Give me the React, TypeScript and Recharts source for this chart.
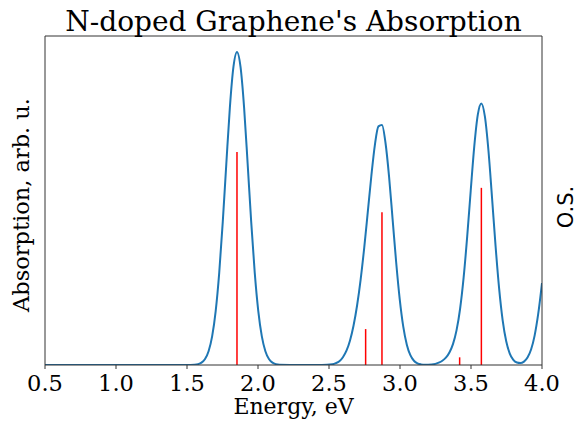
import React from 'react';
import { ComposedChart, Line, XAxis, YAxis, ReferenceLine } from 'recharts';

// Absorption envelope (arb. u.)
const energy = [
  0.5, 1.0, 1.5, 1.552, 1.577, 1.602, 1.627, 1.652, 1.677, 1.702, 1.727, 1.752, 1.777, 1.802, 1.827, 1.852,
  1.877, 1.902, 1.927, 1.952, 1.977, 2.002, 2.027, 2.052, 2.077, 2.102, 2.127, 2.152, 2.3, 2.45,
  2.523, 2.548, 2.573, 2.598, 2.623, 2.648, 2.673, 2.698, 2.723, 2.748, 2.773, 2.798, 2.823, 2.848, 2.873,
  2.898, 2.923, 2.948, 2.973, 2.998, 3.023, 3.048, 3.073, 3.098, 3.123, 3.148, 3.173, 3.223,
  3.273, 3.298, 3.323, 3.348, 3.373, 3.398, 3.423, 3.448, 3.473, 3.498, 3.523, 3.548, 3.573,
  3.598, 3.623, 3.648, 3.673, 3.698, 3.723, 3.748, 3.773, 3.798, 3.823, 3.848, 3.873, 3.898,
  3.923, 3.948, 3.973, 4.0,
];
const absorption = [
  0, 0, 0, 0.003, 0.008, 0.022, 0.056, 0.129, 0.269, 0.506, 0.867, 1.347, 1.893, 2.42, 2.799, 2.94,
  2.799, 2.42, 1.893, 1.347, 0.867, 0.506, 0.269, 0.129, 0.056, 0.022, 0.008, 0.003, 0, 0,
  0.007, 0.017, 0.035, 0.073, 0.134, 0.231, 0.371, 0.561, 0.805, 1.101, 1.435, 1.773, 2.066, 2.241, 2.254,
  2.085, 1.77, 1.368, 0.965, 0.619, 0.36, 0.191, 0.092, 0.04, 0.016, 0.006, 0.002, 0.005,
  0.022, 0.04, 0.069, 0.118, 0.196, 0.325, 0.526, 0.82, 1.203, 1.637, 2.054, 2.352, 2.457,
  2.332, 2.012, 1.573, 1.118, 0.72, 0.42, 0.223, 0.107, 0.048, 0.023, 0.018, 0.032, 0.07,
  0.145, 0.276, 0.477, 0.77,
];

// oscillator strengths (sticks)
const stickEnergy = [1.852, 2.758, 2.873, 3.42, 3.573];
const stickOS = [2.61, 0.44, 1.87, 0.094, 2.17];

const xTicks = [0.5, 1.0, 1.5, 2.0, 2.5, 3.0, 3.5, 4.0];
const absTicks = [0, 1, 2, 3];
const osTicks = [0, 1, 2, 3];

const data = energy.map((e, i) => ({ e, a: absorption[i] }));

const serif = '"DejaVu Serif", serif';
const axisColor = '#333';
const axisLine = { stroke: axisColor, strokeWidth: 1 };
const tickLine = { stroke: axisColor, strokeWidth: 1 };

const App: React.FC = () => {
  return (
    <div style={{ position: 'absolute', left: 0, top: 0, width: 577, height: 423, background: '#fff' }}>
      <ComposedChart width={577} height={423} data={data} margin={{ top: 35, right: 34, left: 44, bottom: 0 }}>
        <XAxis
          dataKey="e"
          type="number"
          domain={[0.5, 4.0]}
          ticks={xTicks}
          tickFormatter={(v: number) => v.toFixed(1)}
          allowDataOverflow
          height={58}
          axisLine={axisLine}
          tickLine={tickLine}
          tickSize={4}
          tickMargin={6}
          tick={{ fill: '#000', fontSize: 22.5, fontFamily: serif }}
        />
        <XAxis
          xAxisId="top"
          orientation="top"
          type="number"
          domain={[0.5, 4.0]}
          height={1}
          tick={false}
          tickLine={false}
          axisLine={axisLine}
        />
        <YAxis
          yAxisId="abs"
          type="number"
          domain={[0, 3.09]}
          ticks={absTicks}
          allowDataOverflow
          width={1}
          tick={false}
          tickSize={4}
          axisLine={axisLine}
          tickLine={tickLine}
        />
        <YAxis
          yAxisId="os"
          orientation="right"
          type="number"
          domain={[0, 4.03]}
          ticks={osTicks}
          allowDataOverflow
          width={1}
          tick={false}
          tickSize={4}
          axisLine={axisLine}
          tickLine={tickLine}
        />
        {stickEnergy.map((e, i) => (
          <ReferenceLine
            key={i}
            yAxisId="os"
            segment={[{ x: e, y: 0 }, { x: e, y: stickOS[i] }]}
            stroke="#ff0000"
            strokeWidth={1.5}
          />
        ))}
        <Line
          yAxisId="abs"
          dataKey="a"
          type="monotone"
          stroke="#1f77b4"
          strokeWidth={2}
          dot={false}
          isAnimationActive={false}
        />
      </ComposedChart>
      <svg width={577} height={423} style={{ position: 'absolute', left: 0, top: 0, pointerEvents: 'none' }}>
        <text x={293.5} y={31} textAnchor="middle" fontFamily={serif} fontSize={28} fill="#000">
          N-doped Graphene's Absorption
        </text>
        <text x={293.5} y={414} textAnchor="middle" fontFamily={serif} fontSize={22} fill="#000">
          Energy, eV
        </text>
        <text x={29} y={205} textAnchor="middle" fontFamily={serif} fontSize={22.5} fill="#000" transform="rotate(-90 29 205)">
          Absorption, arb. u.
        </text>
        <text x={573} y={207} textAnchor="middle" fontFamily='"DejaVu Sans", sans-serif' fontSize={21} fill="#000" transform="rotate(-90 573 207)">
          O.S.
        </text>
      </svg>
    </div>
  );
};

export default App;
